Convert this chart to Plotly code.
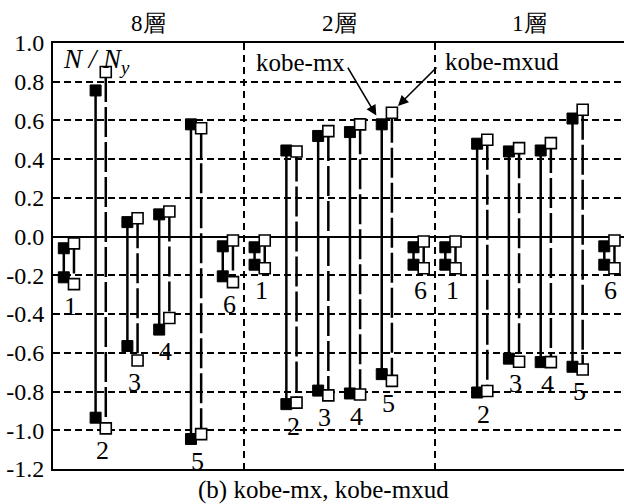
import plotly.graph_objects as go

# Floors (panels) and member numbers within each floor
floors = ["8層", "2層", "1層"]
members = ["1", "2", "3", "4", "5", "6"]

# kobe-mx: max / min axial force ratio N/Ny per member
mx_max_8 = [-0.060, 0.755, 0.075, 0.115, 0.580, -0.050]
mx_min_8 = [-0.210, -0.935, -0.565, -0.480, -1.045, -0.205]
mx_max_2 = [-0.055, 0.445, 0.520, 0.540, 0.580, -0.055]
mx_min_2 = [-0.145, -0.865, -0.795, -0.810, -0.710, -0.145]
mx_max_1 = [-0.055, 0.480, 0.440, 0.445, 0.610, -0.050]
mx_min_1 = [-0.145, -0.805, -0.630, -0.648, -0.672, -0.145]

# kobe-mxud: max / min axial force ratio N/Ny per member
mxud_max_8 = [-0.035, 0.850, 0.095, 0.130, 0.560, -0.020]
mxud_min_8 = [-0.245, -0.990, -0.640, -0.420, -1.020, -0.235]
mxud_max_2 = [-0.020, 0.440, 0.545, 0.580, 0.640, -0.025]
mxud_min_2 = [-0.163, -0.857, -0.820, -0.815, -0.745, -0.163]
mxud_max_1 = [-0.025, 0.500, 0.457, 0.483, 0.655, -0.020]
mxud_min_1 = [-0.163, -0.797, -0.646, -0.648, -0.686, -0.163]

# y-axis ticks
y_ticks = [1.0, 0.8, 0.6, 0.4, 0.2, 0.0, -0.2, -0.4, -0.6, -0.8, -1.0, -1.2]
y_ticktext = ["1.0", "0.8", "0.6", "0.4", "0.2", "0.0",
              "-0.2", "-0.4", "-0.6", "-0.8", "-1.0", "-1.2"]

mx_max = [mx_max_8, mx_max_2, mx_max_1]
mx_min = [mx_min_8, mx_min_2, mx_min_1]
mxud_max = [mxud_max_8, mxud_max_2, mxud_max_1]
mxud_min = [mxud_min_8, mxud_min_2, mxud_min_1]

SERIF = "Liberation Serif"
N_MEM = len(members)
OFFSET = 0.16  # horizontal shift of each series from the member slot centre


def centre(p, i):
    return N_MEM * p + i + 0.5


def range_bars(maxs, mins, shift):
    xs, ys, mx, my = [], [], [], []
    for p in range(len(floors)):
        for i in range(N_MEM):
            x = centre(p, i) + shift
            xs += [x, x, None]
            ys += [maxs[p][i], mins[p][i], None]
            mx += [x, x]
            my += [maxs[p][i], mins[p][i]]
    return xs, ys, mx, my


fig = go.Figure()

a_x, a_y, a_mx, a_my = range_bars(mx_max, mx_min, -OFFSET)
b_x, b_y, b_mx, b_my = range_bars(mxud_max, mxud_min, OFFSET)

fig.add_trace(go.Scatter(x=a_x, y=a_y, mode="lines", name="kobe-mx",
                         line=dict(color="black", width=2.5),
                         showlegend=False, hoverinfo="skip"))
fig.add_trace(go.Scatter(x=b_x, y=b_y, mode="lines", name="kobe-mxud",
                         line=dict(color="black", width=2.5, dash="30px,5px"),
                         showlegend=False, hoverinfo="skip"))
fig.add_trace(go.Scatter(x=a_mx, y=a_my, mode="markers", name="kobe-mx",
                         marker=dict(symbol="square", size=11, color="black",
                                     line=dict(color="black", width=1)),
                         showlegend=False))
fig.add_trace(go.Scatter(x=b_mx, y=b_my, mode="markers", name="kobe-mxud",
                         marker=dict(symbol="square", size=11, color="white",
                                     line=dict(color="black", width=1.6)),
                         showlegend=False))

annotations = []

# member numbers under each pair of bars
for p in range(len(floors)):
    for i, m in enumerate(members):
        low = min(mx_min[p][i], mxud_min[p][i])
        annotations.append(dict(x=centre(p, i) + 0.05, y=low - 0.115,
                                text=m, showarrow=False,
                                font=dict(family=SERIF, size=26, color="black"),
                                xanchor="center", yanchor="middle"))

# floor titles above each panel
for p, f in enumerate(floors):
    annotations.append(dict(x=N_MEM * p + N_MEM / 2, y=1.0, yref="paper",
                            text=f, showarrow=False, yshift=20,
                            font=dict(family=SERIF, size=23, color="black"),
                            xanchor="center", yanchor="middle"))

# axis quantity label
annotations.append(dict(x=0.25, y=0.905, text="<i>N</i> <i>/</i> <i>N</i><sub><i>y</i></sub>",
                        showarrow=False, xanchor="left", yanchor="middle",
                        font=dict(family=SERIF, size=27, color="black")))

# series callouts
annotations.append(dict(x=7.8, y=0.897, text="kobe-mx", showarrow=False,
                        font=dict(family=SERIF, size=25, color="black"),
                        xanchor="center", yanchor="middle"))
annotations.append(dict(x=14.13, y=0.902, text="kobe-mxud", showarrow=False,
                        font=dict(family=SERIF, size=25, color="black"),
                        xanchor="center", yanchor="middle"))
annotations.append(dict(x=centre(1, 4) - OFFSET - 0.17, y=mx_max_2[4] + 0.045,
                        ax=9.245, ay=0.881, axref="x", ayref="y",
                        text="", showarrow=True, arrowhead=2, arrowsize=1.3,
                        arrowwidth=1.6, arrowcolor="black"))
annotations.append(dict(x=centre(1, 4) + OFFSET + 0.19, y=mxud_max_2[4] + 0.035,
                        ax=12.11, ay=0.881, axref="x", ayref="y",
                        text="", showarrow=True, arrowhead=2, arrowsize=1.3,
                        arrowwidth=1.6, arrowcolor="black"))

# caption
annotations.append(dict(x=0.4746, y=-0.049, xref="paper", yref="paper",
                        text="(b) kobe-mx, kobe-mxud", showarrow=False,
                        font=dict(family=SERIF, size=25, color="black"),
                        xanchor="center", yanchor="middle"))

fig.update_layout(
    width=624, height=504,
    margin=dict(l=53, r=0, t=43, b=35),
    paper_bgcolor="white", plot_bgcolor="white",
    font=dict(family=SERIF, color="black"),
    annotations=annotations,
    showlegend=False,
    xaxis=dict(range=[0, 17.96], showticklabels=False, ticks="",
               tickvals=[N_MEM * 1, N_MEM * 2],
               showgrid=True, gridcolor="black", gridwidth=1.5,
               griddash="7px,5px", zeroline=False,
               showline=True, linecolor="black", linewidth=2, mirror=True),
    yaxis=dict(range=[-1.2, 1.0], tickvals=y_ticks, ticktext=y_ticktext,
               ticks="", ticklabelstandoff=2,
               tickfont=dict(family=SERIF, size=24, color="black"),
               showgrid=True, gridcolor="black", gridwidth=2,
               griddash="7px,4px",
               zeroline=True, zerolinecolor="black", zerolinewidth=2,
               showline=True, linecolor="black", linewidth=2, mirror=False),
)

fig.write_html("out.html")
